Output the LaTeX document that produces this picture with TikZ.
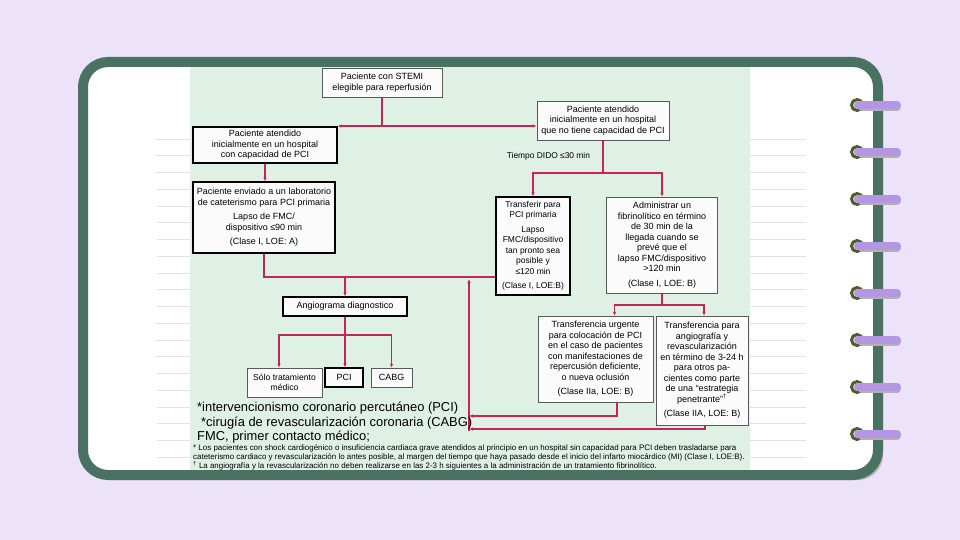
\documentclass[tikz,border=0pt]{standalone}
\usepackage{fontspec}
\setmainfont{Liberation Sans}
\usetikzlibrary{arrows.meta, positioning}
\definecolor{lilac}{HTML}{ECE2FA}
\definecolor{framegreen}{HTML}{4A7262}
\definecolor{mint}{HTML}{DFF0E5}
\definecolor{flowred}{HTML}{C4265A}
\definecolor{ringgreen}{HTML}{4D5F2D}
\definecolor{ringpurple}{HTML}{B596E2}
\definecolor{ruleline}{HTML}{E2E2EA}
\tikzset{
  box/.style = {draw=gray!70!black, line width=0.5pt, fill=white!97!gray,
    align=center, inner sep=1.5pt, font=\fontsize{9}{10.5}\selectfont},
  heavybox/.style = {box, draw=black, line width=1.2pt},
  flow/.style = {draw=flowred, line width=1.3pt},
  arr/.style = {flow, -{Latex[length=4pt,width=3.5pt]}},
  note/.style = {anchor=west, inner sep=0pt, font=\fontsize{12.9}{15}\selectfont},
  smallnote/.style = {anchor=west, inner sep=0pt, font=\fontsize{7.95}{9}\selectfont}
}

\begin{document}
\begin{tikzpicture}[x=1pt, y=-1pt]
  \useasboundingbox (0,0) rectangle (960,540);

  % Page and notebook
  \fill[lilac] (0,0) rectangle (960,540);
  \fill[gray!55, rounded corners=25pt] (88,67) rectangle (883,480);
  \fill[white, rounded corners=25pt] (83,62) rectangle (878,475);
  \foreach \k in {0,...,19} {
    \draw[ruleline, line width=0.7pt] ({157},{139+16.75*\k}) -- ({190},{139+16.75*\k});
    \draw[ruleline, line width=0.7pt] ({750},{139+16.75*\k}) -- ({806},{139+16.75*\k});
  }
  \fill[mint] (190,67) rectangle (750,470);

  % Boxes
  \node[box, minimum width=120pt, minimum height=29pt] (stemi) at (382,82.5)
    {Paciente con STEMI\\elegible para reperfusión};
  \node[heavybox, minimum width=144pt, minimum height=36pt] (conpci) at (265,145)
    {Paciente atendido\\inicialmente en un hospital\\con capacidad de PCI};
  \node[box, minimum width=132pt, minimum height=39pt] (sinpci) at (603,120.5)
    {Paciente atendido\\inicialmente en un hospital\\que no tiene capacidad de PCI};
  \node[heavybox, minimum width=142pt, minimum height=71pt] (lab) at (264,217.5)
    {Paciente enviado a un laboratorio\\de cateterismo para PCI primaria\\[4pt]Lapso de FMC/\\dispositivo ≤90 min\\[4pt](Clase I, LOE: A)};
  \node[heavybox, minimum width=74pt, minimum height=98pt, font=\fontsize{8.5}{10.5}\selectfont] (transf) at (533,246)
    {Transferir para\\PCI primaria\\[4pt]Lapso\\FMC/dispositivo\\tan pronto sea\\posible y\\≤120 min\\[4pt](Clase I, LOE:B)};
  \node[box, minimum width=111pt, minimum height=96pt] (fibrin) at (662,245)
    {Administrar un\\fibrinolítico en término\\de 30 min de la\\llegada cuando se\\prevé que el\\lapso FMC/dispositivo\\>120 min\\[4pt](Clase I, LOE: B)};
  \node[box, minimum width=115pt, minimum height=86pt] (urgente) at (595.5,359)
    {Transferencia urgente\\para colocación de PCI\\en el caso de pacientes\\con manifestaciones de\\repercusión deficiente,\\o nueva oclusión\\[4pt](Clase IIa, LOE: B)};
  \node[box, minimum width=92pt, minimum height=109pt] (angio) at (702,370.5)
    {Transferencia para\\angiografía y\\revascularización\\en término de 3-24 h\\para otros pa-\\cientes como parte\\de una ``estrategia\\penetrante''\textsuperscript{†}\\[4pt](Clase IIA, LOE: B)};
  \node[heavybox, minimum width=124pt, minimum height=19pt] (diag) at (345,306.5)
    {Angiograma diagnostico};
  \node[box, minimum width=75pt, minimum height=29pt, font=\fontsize{8.6}{10}\selectfont] (medico) at (284.5,382.5)
    {Sólo tratamiento\\médico};
  \node[heavybox, minimum width=38pt, minimum height=19pt] (pci) at (344,377.5) {PCI};
  \node[box, minimum width=41pt, minimum height=19pt] (cabg) at (391.5,377.5) {CABG};

  % First split
  \draw[flow] (stemi.south) -- (stemi.south |- 0,126) coordinate (split1);
  \draw[arr] (split1) -- (split1 -| conpci.east);
  \draw[arr] (split1) -- (split1 -| sinpci.west);
  \draw[arr] (conpci.south) -- (conpci.south |- lab.north);

  % DIDO split
  \draw[flow] (sinpci.south) -- (sinpci.south |- 0,173) coordinate (split2)
    node[midway, left=9pt, font=\fontsize{8.4}{10}\selectfont] (dido) {Tiempo DIDO ≤30 min};
  \draw[arr] (split2) -| (transf.north);
  \draw[arr] (split2) -| (fibrin.north);

  % To angiogram
  \draw[flow] (lab.south) |- (transf.west |- 0,277);
  \draw[arr] (diag.north |- 0,277) -- (diag.north);

  % Fibrinolytic split
  \draw[flow] (fibrin.south) -- (fibrin.south |- 0,305) coordinate (split3);
  \draw[arr] (split3) -| ([xshift=19pt]urgente.north);
  \draw[arr] (split3) -| ([xshift=2pt]angio.north);

  % Return path
  \coordinate (back) at (469,431);
  \draw[arr] (back) -- (back |- 0,279);
  \draw[arr] ([xshift=21.5pt]urgente.south) |- (back |- 0,416);
  \draw[arr] ([xshift=3pt]angio.south) |- (back |- 0,429);

  % Angiogram split
  \draw[flow] (diag.south) -- (diag.south |- 0,335) coordinate (split4);
  \draw[arr] (split4) -| ([xshift=-5.5pt]medico.north);
  \draw[arr] (split4) -- (split4 |- pci.north);
  \draw[arr] (split4) -| (cabg.north);

  % Notes
  \node[note] (fnpci) at (197,408) {*intervencionismo coronario percutáneo (PCI)};
  \node[note] (fncabg) at (201,423) {*cirugía de revascularización coronaria (CABG)};
  \node[note] (fnfmc) at (197,437) {FMC, primer contacto médico;};
  \node[smallnote] (fnshock) at (193,448) {* Los pacientes con shock cardiogénico o insuficiencia cardiaca grave atendidos al principio en un hospital sin capacidad para PCI deben trasladarse para};
  \node[smallnote] (fnshockb) at (193,457) {cateterismo cardiaco y revascularización lo antes posible, al margen del tiempo que haya pasado desde el inicio del infarto miocárdico (MI) (Clase I, LOE:B).};
  \node[smallnote] (fndagger) at (193,466) {\textsuperscript{†} La angiografía y la revascularización no deben realizarse en las 2-3 h siguientes a la administración de un tratamiento fibrinolítico.};

  % Frame and rings
  \draw[framegreen, line width=10pt, rounded corners=25pt] (83,62) rectangle (878,475);
  \foreach \y in {105,152,199,246,293,340,387,434} {
    \draw[ringgreen, line width=3pt] (857,\y) circle (5.5pt);
    \draw[gray!60, line width=8pt, line cap=round] ({862},{\y+2}) -- ({897},{\y+2});
    \draw[ringpurple, line width=8pt, line cap=round] (858,\y) -- (897,\y);
  }

\end{tikzpicture}
\end{document}
